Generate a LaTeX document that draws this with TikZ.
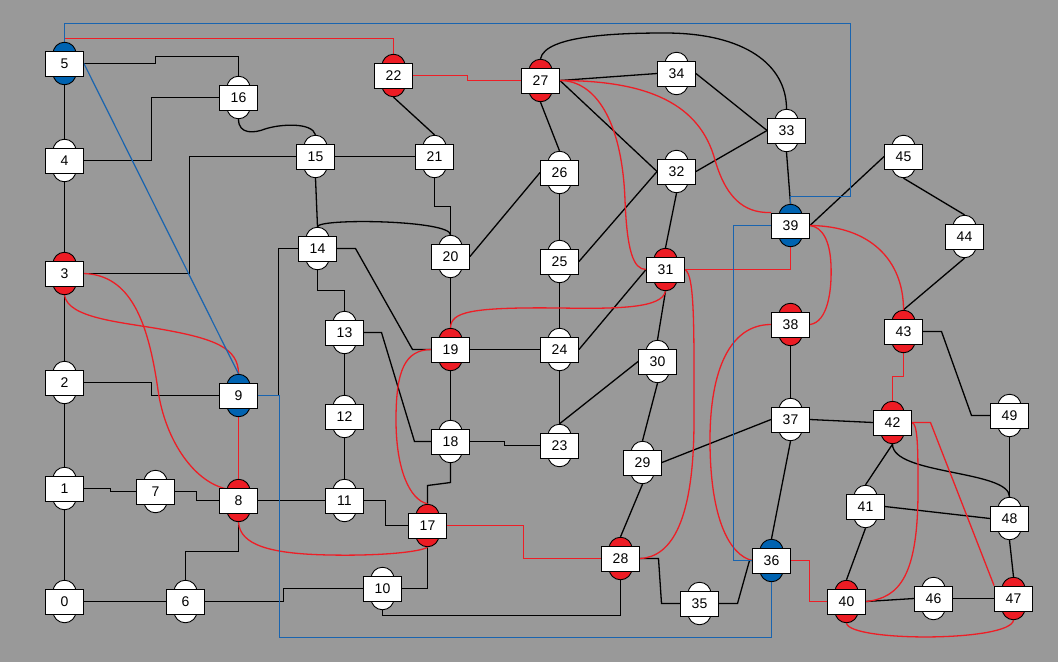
\documentclass[tikz,border=0pt]{standalone}
\usepackage{fontspec}
\setmainfont{Liberation Sans}
\usetikzlibrary{calc}
\pgfdeclarelayer{back}
\pgfdeclarelayer{edges}
\pgfsetlayers{back,edges,main}
\definecolor{bgc}{RGB}{153,153,153}
\definecolor{capred}{RGB}{237,28,36}
\definecolor{capblue}{RGB}{0,99,177}
\definecolor{linered}{RGB}{238,30,38}
\definecolor{lineblue}{RGB}{25,100,175}
\tikzset{
 capw/.style={draw=black, line width=0.9pt, rounded corners=11.5pt, minimum width=23pt, minimum height=42.5pt, inner sep=0pt, fill=#1},
 boxn/.style={draw=black, line width=0.9pt, fill=white, minimum width=38pt, minimum height=25pt, inner sep=0pt, font=\fontsize{14}{14}\selectfont},
 bk/.style={draw=black, line width=1.3pt},
 rd/.style={draw=linered, line width=1.3pt},
 bl/.style={draw=lineblue, line width=1.2pt},
}
\newcommand\mkvert[4]{\node[capw=#4] (c#1) at (#2,#3) {};\node[boxn] (n#1) at (#2,#3) {#1};}
\begin{document}
\begin{tikzpicture}[x=1pt,y=-1pt]
\begin{pgfonlayer}{back}
\fill[bgc] (0,0) rectangle (1058,662);
\end{pgfonlayer}
\useasboundingbox (0,0) rectangle (1058,662);
\mkvert{0}{64.5}{601.5}{white}
\mkvert{1}{64.5}{488.5}{white}
\mkvert{2}{64.5}{382.5}{white}
\mkvert{3}{64.5}{273.5}{capred}
\mkvert{4}{64.5}{160.5}{white}
\mkvert{5}{64.5}{63.5}{capblue}
\mkvert{6}{185.5}{601.5}{white}
\mkvert{7}{155.5}{491.5}{white}
\mkvert{8}{238.5}{500.5}{capred}
\mkvert{9}{238.5}{395.5}{capblue}
\mkvert{10}{382.5}{588.5}{white}
\mkvert{11}{344.5}{500.5}{white}
\mkvert{12}{344.5}{416.5}{white}
\mkvert{13}{344.5}{332.5}{white}
\mkvert{14}{317.5}{248.5}{white}
\mkvert{15}{315.5}{156.5}{white}
\mkvert{16}{238.5}{97.5}{white}
\mkvert{17}{427.5}{525.5}{capred}
\mkvert{18}{450.5}{441.5}{white}
\mkvert{19}{450.5}{349.5}{capred}
\mkvert{20}{450.5}{256.5}{white}
\mkvert{21}{434.5}{156.5}{white}
\mkvert{22}{393.5}{75.5}{capred}
\mkvert{23}{559.5}{445.5}{white}
\mkvert{24}{559.5}{349.5}{white}
\mkvert{25}{559.5}{261.5}{white}
\mkvert{26}{559.5}{172.5}{white}
\mkvert{27}{540.5}{80.5}{capred}
\mkvert{28}{620.5}{558.5}{capred}
\mkvert{29}{642.5}{462.5}{white}
\mkvert{30}{657.5}{361.5}{white}
\mkvert{31}{665.5}{269.5}{capred}
\mkvert{32}{676.5}{171.5}{white}
\mkvert{33}{786.5}{130.5}{white}
\mkvert{34}{676.5}{73.5}{white}
\mkvert{35}{699.5}{603.5}{white}
\mkvert{36}{771.5}{560.5}{capblue}
\mkvert{37}{790.5}{419.5}{white}
\mkvert{38}{790.5}{324.5}{capred}
\mkvert{39}{790.5}{225.5}{capblue}
\mkvert{40}{846.5}{601.5}{capred}
\mkvert{41}{865.5}{506.5}{white}
\mkvert{42}{892.5}{422.5}{capred}
\mkvert{43}{903.5}{331.5}{capred}
\mkvert{44}{964.5}{236.5}{white}
\mkvert{45}{903.5}{156.5}{white}
\mkvert{46}{933.5}{598.5}{white}
\mkvert{47}{1013.5}{598.5}{capred}
\mkvert{48}{1009.5}{518.5}{white}
\mkvert{49}{1009.5}{415.5}{white}
\begin{pgfonlayer}{edges}
% black connectors
\draw[bk] (c5.south) -- (c4.north);
\draw[bk] (n5.east) -- (155.5,63.5) -- (155.5,56.5) -| (c16.north);
\draw[bk] (n4.east) -- (151.5,160.5) |- (n16.west);
\draw[bk] (c4.south) -- (c3.north);
\draw[bk] (n3.east) -- (189.5,273.5) |- (n15.west);
\draw[bk] (c3.south) -- (c2.north);
\draw[bk] (n2.east) -- (151.5,382.5) |- (n9.west);
\draw[bk] (c2.south) -- (c1.north);
\draw[bk] (n1.east) -- (110.5,488.5) |- (n7.west);
\draw[bk] (n7.east) -- (196.5,491.5) |- (n8.west);
\draw[bk] (c1.south) -- (c0.north);
\draw[bk] (n0.east) -- (n6.west);
\draw[bk] (c6.north) |- (238.5,551.5) -- (c8.south);
\draw[bk] (n6.east) -- (283.5,601.5) |- (n10.west);
\draw[bk] (n8.east) -- (n11.west);
\draw[bk] (n9.east) -- (278.5,395.5) |- (n14.west);
\draw[bk] (c16.south) .. controls (238.5,135) and (255,133) .. (265,129) .. controls (280,124) and (312,122) .. (c15.north);
\draw[bk] (n15.east) -- (n21.west);
\draw[bk] (c15.south) -- (c14.north);
\draw[bk] (c21.south) -- (434.5,206.5) -| (c20.north);
\draw[bk] (c22.south) -- (c21.north);
\draw[bk] (c14.north) .. controls (317.5,218) and (450.5,220) .. (c20.north);
\draw[bk] (c14.south) -- (317.5,290.5) -| (c13.north);
\draw[bk] (n14.east) -- (355.5,248.5) -- (412.5,349.5) -- (n19.west);
\draw[bk] (c13.south) -- (c12.north);
\draw[bk] (n13.east) -- (381.5,332.5) -- (414.5,441.5) -- (n18.west);
\draw[bk] (c12.south) -- (c11.north);
\draw[bk] (n11.east) -- (385.5,500.5) |- (n17.west);
\draw[bk] (c20.south) -- (c19.north);
\draw[bk] (n19.east) -- (n24.west);
\draw[bk] (c19.south) -- (c18.north);
\draw[bk] (c18.south) -- (450.5,482.5) -- (427.5,485.5) -- (c17.north);
\draw[bk] (n18.east) -- (504.5,441.5) |- (n23.west);
\draw[bk] (c17.south) |- (n10.east);
\draw[bk] (c10.south) -- (382.5,615.5) -| (c28.south);
\draw[bk] (n20.east) -- (n26.west);
\draw[bk] (c27.south) -- (c26.north);
\draw[bk] (c26.south) -- (c25.north);
\draw[bk] (c25.south) -- (c24.north);
\draw[bk] (c24.south) -- (c23.north);
\draw[bk] (n25.east) -- (n32.west);
\draw[bk] (n27.east) -- (n32.west);
\draw[bk] (n24.east) -- (n31.west);
\draw[bk] (c23.north) -- (n30.west);
\draw[bk] (n27.east) -- (n34.west);
\draw[bk] (c27.north) .. controls (545,35) and (620,33) .. (665,33) .. controls (745,33) and (786.5,65) .. (c33.north);
\draw[bk] (n34.east) -- (n33.west);
\draw[bk] (n32.east) -- (n33.west);
\draw[bk] (c32.south) -- (c31.north);
\draw[bk] (c31.south) -- (c30.north);
\draw[bk] (c30.south) -- (c29.north);
\draw[bk] (n29.east) -- (n37.west);
\draw[bk] (c29.south) -- (c28.north);
\draw[bk] (n28.east) -- (658.5,558.5) -- (661.5,603.5) -- (n35.west);
\draw[bk] (n35.east) -- (737.5,603.5) -- (749.5,560.5) -- (n36.west);
\draw[bk] (c36.north) -- (c37.south);
\draw[bk] (c38.south) -- (c37.north);
\draw[bk] (n37.east) -- (n42.west);
\draw[bk] (c33.south) -- (c39.north);
\draw[bk] (n39.east) -- (n45.west);
\draw[bk] (c45.south) -- (c44.north);
\draw[bk] (c44.south) -- (c43.north);
\draw[bk] (n43.east) -- (941.5,331.5) -- (971.5,415.5) -- (n49.west);
\draw[bk] (c42.south) -- (c41.north);
\draw[bk] (c42.south) .. controls (892.5,475) and (1009.5,470) .. (c48.north);
\draw[bk] (n41.east) -- (n48.west);
\draw[bk] (c41.south) -- (c40.north);
\draw[bk] (c49.south) -- (c48.north);
\draw[bk] (c48.south) -- (c47.north);
\draw[bk] (n40.east) -- (n46.west);
\draw[bk] (n46.east) -- (n47.west);
% red connectors
\draw[rd] (c5.north) |- (393.5,38.5) -- (c22.north);
\draw[rd] (n22.east) -- (467.5,75.5) |- (n27.west);
\draw[rd] (n27.east) .. controls (595,80.5) and (622,120) .. (625,200) .. controls (627,250) and (633,269.5) .. (n31.west);
\draw[rd] (n27.east) .. controls (650,80.5) and (700,105) .. (715,160) .. controls (728,205) and (750,213) .. (n39.north west);
\draw[rd] (n31.east) -| (c39.south);
\draw[rd] (c31.south) .. controls (662,308) and (620,309) .. (560,308) .. controls (470,307) and (451,312) .. (c19.north);
\draw[rd] (n31.east) .. controls (695,275) and (694,330) .. (694,420) .. controls (694,520) and (672,557) .. (n28.east);
\draw[rd] (n38.west) .. controls (730,324.5) and (710,370) .. (710,440) .. controls (710,520) and (730,555) .. (n36.west);
\draw[rd] (n38.east) .. controls (828,322) and (832,290) .. (831,265) .. controls (830,240) and (822,227) .. (n39.east);
\draw[rd] (n39.east) .. controls (870,226) and (903.5,260) .. (c43.north);
\draw[rd] (c43.south) -- (903.5,376.5) -| (c42.north);
\draw[rd] (n42.east) .. controls (918,424) and (918,450) .. (918,490) .. controls (918,575) and (900,598) .. (n40.east);
\draw[rd] (n42.east) -- (930.5,422.5) -- (n47.north west);
\draw[rd] (c40.south) .. controls (850,642) and (1010,642) .. (c47.south);
\draw[rd] (n36.east) -- (809.5,560.5) |- (n40.west);
\draw[rd] (n17.east) -- (523.5,525.5) |- (n28.west);
\draw[rd] (n19.west) .. controls (405,350) and (396,370) .. (396,420) .. controls (396,470) and (410,500) .. (c17.north);
\draw[rd] (c17.south) .. controls (420,552) and (380,556) .. (330,555) .. controls (270,554) and (240,545) .. (c8.south);
\draw[rd] (n3.east) .. controls (130,275) and (148,320) .. (158,390) .. controls (165,440) and (195,485) .. ($(n8.north)+(-8,2)$);
\draw[rd] (c3.south) .. controls (68,318) and (120,322) .. (160,329) .. controls (215,338.6) and (238.5,348) .. (c9.north);
\draw[rd] (c9.south) -- (c8.north);
% blue connectors
\draw[bl] (c5.north) |- (850.5,23.5) -- (850.5,196.5) -| (c39.north);
\draw[bl] (n5.east) -- (c9.north);
\draw[bl] (n9.east) -| (279.5,637.5) -| (c36.south);
\draw[bl] (n39.west) -- (733.5,225.5) |- (n36.west);
\end{pgfonlayer}
\end{tikzpicture}
\end{document}
